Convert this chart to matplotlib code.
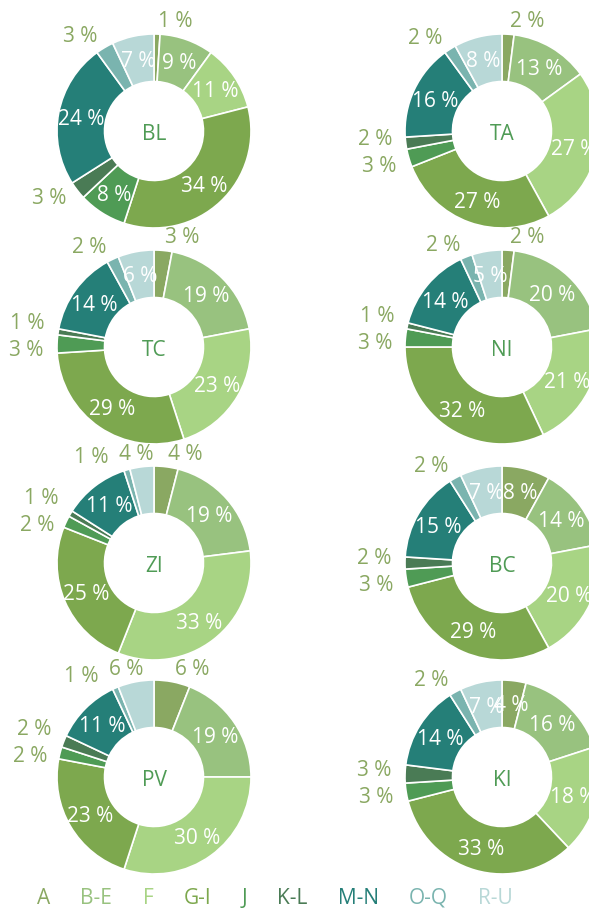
import matplotlib.pyplot as plt
import numpy as np

plt.rcParams['font.family'] = ['Open Sans', 'DejaVu Sans']

# sector shares per region (%)
categories = ['A', 'B-E', 'F', 'G-I', 'J', 'K-L', 'M-N', 'O-Q', 'R-U']
colors = ['#8aa862', '#98c27f', '#a8d484', '#7da84e', '#4f9b55',
          '#4a7b55', '#257f78', '#7ab4af', '#b8d8d7']

regions = ['BL', 'TA', 'TC', 'NI', 'ZI', 'BC', 'PV', 'KI']
bl = [1, 9, 11, 34, 8, 3, 24, 3, 7]
ta = [2, 13, 27, 27, 3, 2, 16, 2, 8]
tc = [3, 19, 23, 29, 3, 1, 14, 2, 6]
ni = [2, 20, 21, 32, 3, 1, 14, 2, 5]
zi = [4, 19, 33, 25, 2, 1, 11, 1, 4]
bc = [8, 14, 20, 29, 3, 2, 15, 2, 7]
pv = [6, 19, 30, 23, 2, 2, 11, 1, 6]
ki = [4, 16, 18, 33, 3, 3, 14, 2, 7]
shares = [bl, ta, tc, ni, zi, bc, pv, ki]

# small slices get their label outside the ring
outside_max = [3, 3, 3, 3, 4, 3, 6, 3]

W, H = 589, 911
fig = plt.figure(figsize=(W / 100, H / 100), dpi=100)
ax = fig.add_axes([0, 0, 1, 1])

col_x = [154, 502]
row_y = [131, 347, 563, 777]
R = 97
FS = 15
out_color = '#8aa862'


def spread(boxes, w=35, h=20, padx=10, pady=7):
    # push overlapping label boxes apart; sideways near the top, vertically at the sides
    for _ in range(80):
        moved = False
        for i in range(len(boxes)):
            for j in range(i + 1, len(boxes)):
                dx = boxes[j][0] - boxes[i][0]
                dy = boxes[j][1] - boxes[i][1]
                ox = w + padx - abs(dx)
                oy = h + pady - abs(dy)
                if ox > 0 and oy > 0:
                    moved = True
                    top = min(abs(boxes[i][2]), abs(boxes[j][2])) > 0.7
                    if top:
                        s = 1 if dx >= 0 else -1
                        boxes[i][0] -= s * ox / 2
                        boxes[j][0] += s * ox / 2
                    else:
                        s = 1 if dy >= 0 else -1
                        boxes[i][1] -= s * oy / 2
                        boxes[j][1] += s * oy / 2
        if not moved:
            break
    return boxes


for k, (name, vals) in enumerate(zip(regions, shares)):
    cx = col_x[k % 2]
    cy = H - row_y[k // 2]
    wedges, _ = ax.pie(vals, colors=colors, startangle=90, counterclock=False,
                       radius=R, center=(cx, cy),
                       wedgeprops=dict(width=0.49 * R, edgecolor='white', linewidth=1.2))
    ax.text(cx, cy - 4, name, ha='center', va='center', fontsize=FS, color='#4f9b55')

    boxes, texts = [], []
    for wdg, v in zip(wedges, vals):
        ang = np.deg2rad((wdg.theta1 + wdg.theta2) / 2)
        dx, dy = np.cos(ang), np.sin(ang)
        lab = f'{v} %'
        if v > outside_max[k]:
            ax.text(cx + 0.76 * R * dx, cy + 0.76 * R * dy - 2, lab,
                    ha='center', va='center', color='white', fontsize=FS)
        else:
            px = cx + 1.13 * R * dx
            py = cy + 1.13 * R * dy
            boxes.append([px + 18 * np.sign(dx), py, dy])
            texts.append(lab)
    for (bx, by, _), lab in zip(spread(boxes), texts):
        ax.text(bx, by, lab, ha='center', va='center', color=out_color, fontsize=FS)

leg = ax.legend(wedges, categories, ncol=9, loc='center',
                bbox_to_anchor=(275 / W, 13 / H), bbox_transform=fig.transFigure,
                frameon=False, handlelength=0, handletextpad=0,
                columnspacing=1.45, fontsize=FS)
for hnd in leg.legend_handles:
    hnd.set_visible(False)
for t, c in zip(leg.get_texts(), colors):
    t.set_color(c)

ax.set_xlim(0, W)
ax.set_ylim(0, H)
ax.axis('off')

fig.savefig('out.png', dpi=100)
